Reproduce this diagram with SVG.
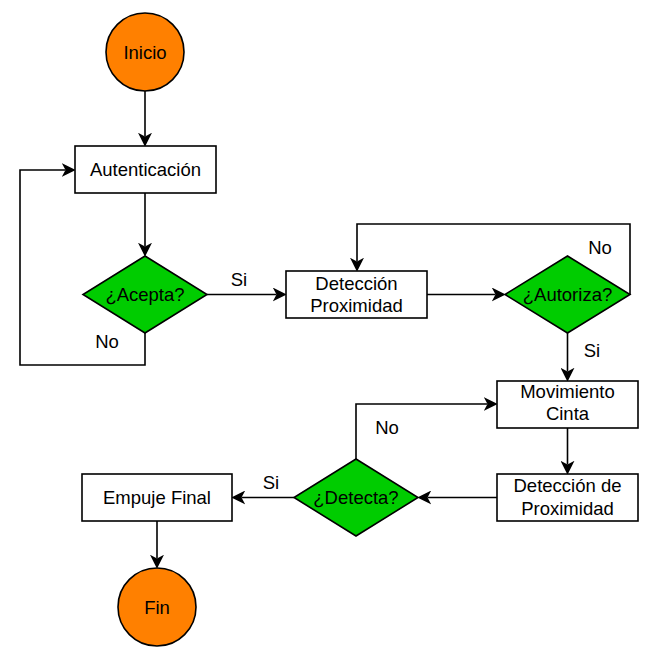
<svg xmlns="http://www.w3.org/2000/svg" width="648" height="656" viewBox="0 0 648 656">
<style>
.box{fill:#fff;stroke:#000;stroke-width:1.6}
.term{fill:#FF8000;stroke:#000;stroke-width:1.6}
.dec{fill:#00CC00;stroke:#000;stroke-width:1.6}
.t{font-family:"Liberation Sans",Arial,sans-serif;font-size:18.5px;fill:#000;text-anchor:middle}
.c{fill:none;stroke:#000;stroke-width:1.6;marker-end:url(#arr)}
.cn{fill:none;stroke:#000;stroke-width:1.6}
</style>
<defs>
<marker id="arr" markerUnits="userSpaceOnUse" markerWidth="14" markerHeight="14" viewBox="0 0 13 13" refX="3.5" refY="6.5" orient="auto">
<path d="M0,0 L13,6.5 L0,13 L3.5,6.5 Z" fill="#000"/>
</marker>
</defs>
<rect width="648" height="656" fill="#fff"/>
<g id="connectors">
<path class="c" d="M145,91 V136.5"/>
<path class="c" d="M145,193 V246.5"/>
<path class="c" d="M207,294.5 H276.5"/>
<path class="c" d="M145,333 V365 H20 V170 H65.5"/>
<path class="c" d="M427,294.5 H495.5"/>
<path class="c" d="M630,294.5 V224 H357 V261.5"/>
<path class="c" d="M567.5,333 V371.5"/>
<path class="c" d="M567.5,428 V464.5"/>
<path class="c" d="M497,497.5 H427.5"/>
<path class="c" d="M356,459 V404 H487.5"/>
<path class="c" d="M294,497.5 H241.5"/>
<path class="c" d="M157,521 V558.5"/>
<text class="t" x="239" y="286">Si</text>
<text class="t" x="107" y="348">No</text>
<text class="t" x="600" y="254">No</text>
<text class="t" x="592" y="357">Si</text>
<text class="t" x="387" y="434">No</text>
<text class="t" x="271" y="489">Si</text>
</g>
<g id="inicio">
<circle class="term" cx="145" cy="52" r="39"/>
<text class="t" x="145" y="58.5">Inicio</text>
</g>
<g id="autenticacion">
<rect class="box" x="75" y="146" width="141" height="47"/>
<text class="t" x="145.5" y="176">Autenticación</text>
</g>
<g id="acepta">
<polygon class="dec" points="145,256 207,294.5 145,333 83,294.5"/>
<text class="t" x="145" y="301">¿Acepta?</text>
</g>
<g id="deteccion1">
<rect class="box" x="286" y="271" width="141" height="47"/>
<text class="t" x="356.5" y="290">Detección</text>
<text class="t" x="356.5" y="312">Proximidad</text>
</g>
<g id="autoriza">
<polygon class="dec" points="567.5,256 630,294.5 567.5,333 505,294.5"/>
<text class="t" x="567.5" y="301">¿Autoriza?</text>
</g>
<g id="movimiento">
<rect class="box" x="497" y="381" width="141" height="47"/>
<text class="t" x="567.5" y="398">Movimiento</text>
<text class="t" x="567.5" y="420">Cinta</text>
</g>
<g id="deteccion2">
<rect class="box" x="497" y="474" width="141" height="47"/>
<text class="t" x="567.5" y="492">Detección de</text>
<text class="t" x="567.5" y="515">Proximidad</text>
</g>
<g id="detecta">
<polygon class="dec" points="356,459 418,497.5 356,536 294,497.5"/>
<text class="t" x="356" y="504">¿Detecta?</text>
</g>
<g id="empuje">
<rect class="box" x="82" y="474" width="150" height="47"/>
<text class="t" x="157" y="504">Empuje Final</text>
</g>
<g id="fin">
<circle class="term" cx="157" cy="607" r="39"/>
<text class="t" x="157" y="613.5">Fin</text>
</g>
</svg>
